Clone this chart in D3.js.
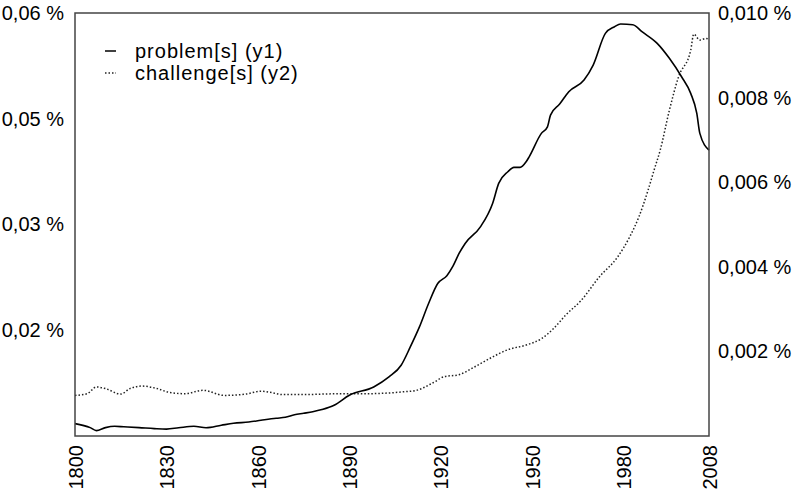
<!DOCTYPE html>
<html>
<head>
<meta charset="utf-8">
<script src="https://cdn.jsdelivr.net/npm/d3@7"></script>
<style>
  body { margin: 0; background: #fff; }
  text { font-family: "Liberation Sans", Arial, Helvetica, sans-serif; fill: #000; }
</style>
</head>
<body>
<div id="chart"></div>
<script>
// problem[s] (left axis, y1) - year / share
const problemYears = [1800, 1805, 1807, 1810, 1813, 1816, 1821, 1826, 1830, 1834, 1839, 1843, 1848, 1852, 1857, 1861, 1866, 1869, 1872, 1875, 1878, 1881, 1885, 1890, 1898, 1903, 1907, 1910, 1913, 1916, 1919, 1922, 1924, 1926, 1928, 1933, 1937, 1939, 1942, 1944, 1946, 1948, 1949, 1953, 1955, 1956, 1959, 1962, 1967, 1970, 1974, 1977, 1979, 1983, 1986, 1991, 1995, 1999, 2002, 2004, 2005, 2008];
const problemValues = [0.00952, 0.00903, 0.00866, 0.00903, 0.00919, 0.00913, 0.00903, 0.00891, 0.00885, 0.00901, 0.00919, 0.00901, 0.00932, 0.00956, 0.00972, 0.00993, 0.01018, 0.01030, 0.01061, 0.01079, 0.01098, 0.01125, 0.01178, 0.01301, 0.01403, 0.01526, 0.01670, 0.01895, 0.02141, 0.02429, 0.02675, 0.02771, 0.02888, 0.03044, 0.03167, 0.03371, 0.03659, 0.03905, 0.04048, 0.04102, 0.04102, 0.04171, 0.04232, 0.04520, 0.04601, 0.04745, 0.04880, 0.05032, 0.05176, 0.05360, 0.05750, 0.05831, 0.05865, 0.05856, 0.05770, 0.05627, 0.05443, 0.05216, 0.05012, 0.04766, 0.04520, 0.04315];

// challenge[s] (right axis, y2)
const challengeYears = [1800, 1804, 1807, 1810, 1815, 1818, 1822, 1827, 1831, 1836, 1842, 1849, 1856, 1861, 1865, 1868, 1875, 1887, 1896, 1907, 1912, 1918, 1921, 1926, 1931, 1936, 1942, 1948, 1953, 1957, 1961, 1966, 1972, 1978, 1982, 1985, 1988, 1990, 1992, 1995, 1998, 2002, 2003, 2005, 2007, 2008];
const challengeValues = [0.00096, 0.00100, 0.00116, 0.00112, 0.00099, 0.00112, 0.00118, 0.00112, 0.00103, 0.00100, 0.00108, 0.00096, 0.00099, 0.00106, 0.00102, 0.00098, 0.00098, 0.00100, 0.00100, 0.00104, 0.00108, 0.00128, 0.00140, 0.00145, 0.00163, 0.00183, 0.00204, 0.00215, 0.00230, 0.00254, 0.00286, 0.00320, 0.00376, 0.00423, 0.00471, 0.00518, 0.00581, 0.00629, 0.00676, 0.00770, 0.00849, 0.00912, 0.00950, 0.00936, 0.00940, 0.00938];

// tick labels
const xTicks = [1800, 1830, 1860, 1890, 1920, 1950, 1980, 2008];
const y1Ticks = [0.060, 0.047, 0.034, 0.021];
const y1Labels = ["0,06 %", "0,05 %", "0,03 %", "0,02 %"];
const y2Ticks = [0.010, 0.008, 0.006, 0.004, 0.002];
const y2Labels = ["0,010 %", "0,008 %", "0,006 %", "0,004 %", "0,002 %"];

const W = 800, H = 494;
const margin = {top: 13, right: 91, bottom: 58, left: 75},
    width = W - margin.left - margin.right,
    height = H - margin.top - margin.bottom;

const svg = d3.select("#chart")
    .append("svg")
    .attr("width", W)
    .attr("height", H)
    .append("g")
    .attr("transform", `translate(${margin.left},${margin.top})`);

const x = d3.scaleLinear().domain([1800, 2008]).range([0, width]);
const y1 = d3.scaleLinear().domain([0.008, 0.060]).range([height, 0]);
const y2 = d3.scaleLinear().domain([0, 0.010]).range([height, 0]);

// x axis labels (rotated)
svg.append("g")
    .attr("transform", `translate(0,${height})`)
    .call(d3.axisBottom(x).tickValues(xTicks).tickFormat(d3.format("d")).tickSize(0))
    .call(g => g.select(".domain").remove())
    .selectAll("text")
    .attr("transform", "rotate(-90)")
    .attr("x", -9)
    .attr("y", 0)
    .attr("dy", "0.36em")
    .style("text-anchor", "end")
    .style("font-size", "20px")
    .style("font-family", "'Liberation Sans', Arial, sans-serif");

// left axis
svg.append("g")
    .call(d3.axisLeft(y1).tickValues(y1Ticks).tickFormat((d, i) => y1Labels[i]).tickSize(0).tickPadding(11))
    .call(g => g.select(".domain").remove())
    .selectAll("text")
    .style("font-size", "20px")
    .style("font-family", "'Liberation Sans', Arial, sans-serif");

// right axis
svg.append("g")
    .attr("transform", `translate(${width},0)`)
    .call(d3.axisRight(y2).tickValues(y2Ticks).tickFormat((d, i) => y2Labels[i]).tickSize(0).tickPadding(9))
    .call(g => g.select(".domain").remove())
    .selectAll("text")
    .style("font-size", "20px")
    .style("font-family", "'Liberation Sans', Arial, sans-serif");

// lines
const problemData = problemYears.map((yr, i) => ({year: yr, value: problemValues[i]}));
const challengeData = challengeYears.map((yr, i) => ({year: yr, value: challengeValues[i]}));

svg.append("path")
    .datum(challengeData)
    .attr("fill", "none")
    .attr("stroke", "#222")
    .attr("stroke-width", 1.5)
    .attr("stroke-dasharray", "1.5,2")
    .attr("d", d3.line().x(d => x(d.year)).y(d => y2(d.value)).curve(d3.curveMonotoneX));

svg.append("path")
    .datum(problemData)
    .attr("fill", "none")
    .attr("stroke", "#000")
    .attr("stroke-width", 1.6)
    .attr("d", d3.line().x(d => x(d.year)).y(d => y1(d.value)).curve(d3.curveMonotoneX));

// frame
svg.append("rect")
    .attr("width", width)
    .attr("height", height)
    .attr("fill", "none")
    .attr("stroke", "#444")
    .attr("stroke-width", 1.5);

// legend
const legend = svg.append("g").attr("transform", "translate(30,38)");
legend.append("line").attr("x1", 0).attr("x2", 11).attr("y1", 0).attr("y2", 0)
    .attr("stroke", "#000").attr("stroke-width", 1.5);
legend.append("line").attr("x1", 0).attr("x2", 11).attr("y1", 22).attr("y2", 22)
    .attr("stroke", "#222").attr("stroke-width", 1.5).attr("stroke-dasharray", "1.5,2");
legend.append("text").attr("x", 30).attr("y", 0).attr("dy", "0.35em")
    .style("font-size", "20px").style("letter-spacing", "1px").text("problem[s] (y1)");
legend.append("text").attr("x", 30).attr("y", 22).attr("dy", "0.35em")
    .style("font-size", "20px").style("letter-spacing", "1px").text("challenge[s] (y2)");
</script>
</body>
</html>
